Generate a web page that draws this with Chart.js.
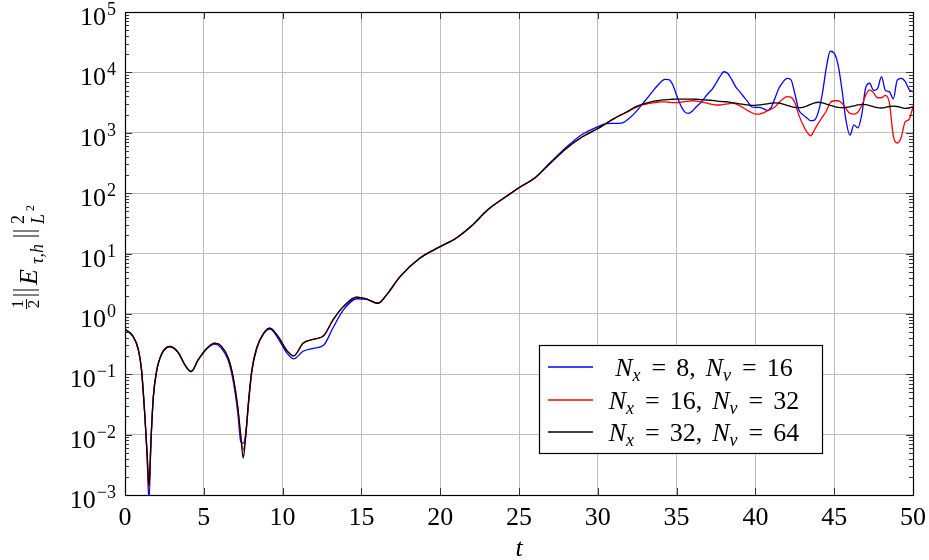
<!DOCTYPE html>
<html>
<head>
<meta charset="utf-8">
<script src="https://cdn.jsdelivr.net/npm/chart.js@4.4.0/dist/chart.umd.min.js"></script>
<style>
  html, body { margin: 0; padding: 0; background: #fff; }
  #wrap { width: 929px; height: 560px; }
</style>
</head>
<body>
<div id="wrap"><canvas id="myChart" width="929" height="560"></canvas></div>
<script>
// time samples
const t = [
  0, 0.5, 0.85, 1.05, 1.25, 1.4, 1.52, 1.65, 1.8, 2,
  2.3, 2.85, 3.4, 3.8, 4.2, 4.65, 5.2, 5.7, 6.1, 6.55,
  6.85, 7.15, 7.35, 7.5, 7.65, 7.85, 8.05, 8.35, 8.8, 9.2,
  9.7, 10.25, 10.7, 11.3, 11.95, 12.6, 13.2, 13.85, 14.7, 15.35,
  16.05, 16.6, 17.45, 18.7, 20, 21, 22, 23, 24, 25,
  26, 27, 28, 29, 30, 30.5, 31, 31.5,
  32, 32.25, 32.5, 32.75, 33, 33.25, 33.5, 33.75, 34, 34.25, 34.5, 34.75,
  35, 35.25, 35.5, 35.75, 36, 36.25, 36.5, 36.75, 37, 37.25, 37.5, 37.75,
  38, 38.25, 38.5, 38.75, 39, 39.25, 39.5, 39.75, 40, 40.25, 40.5, 40.75,
  41, 41.25, 41.5, 41.75, 42, 42.25, 42.5, 42.75, 43, 43.25, 43.5, 43.75,
  44, 44.25, 44.5, 44.75, 45, 45.25, 45.5, 45.75, 46, 46.25, 46.5, 46.75,
  47, 47.25, 47.5, 47.75, 48, 48.25, 48.5, 48.75, 49, 49.25, 49.5, 49.75,
  50
];

// 1/2 ||E||^2 for Nx = 8, Nv = 16
const energy8 = [
  0.557, 0.427, 0.254, 0.117, 0.0224, 0.0045, 0.00079, 0.0081, 0.0427, 0.111,
  0.209, 0.288, 0.224, 0.143, 0.111, 0.174, 0.265, 0.316, 0.275, 0.17,
  0.0813, 0.024, 0.00759, 0.00724, 0.01, 0.0355, 0.112, 0.262, 0.47, 0.562,
  0.398, 0.229, 0.18, 0.24, 0.269, 0.302, 0.589, 1.15, 1.78, 1.74,
  1.5, 2.07, 4.15, 8.36, 13, 17.9, 28.8, 52.5, 81.3, 123,
  178, 324, 575, 933, 1259, 1413, 1429, 1445,
  1738, 1995, 2344, 2818, 3388, 4074, 4898, 5888, 6918, 7674, 7586, 6310,
  4169, 2884, 2239, 2089, 2291, 2692, 3090, 3715, 4467, 5248, 6607, 8511,
  10233, 9550, 7586, 5754, 4786, 3981, 3311, 2692, 2630, 2630, 2512, 2344,
  2630, 3802, 5495, 6918, 7943, 7586, 4467, 2399, 1995, 1778, 1585, 1622,
  2239, 4467, 12023, 22387, 20893, 13183, 5012, 1585, 912, 1349, 1202, 1995,
  5623, 6607, 5012, 5370, 8511, 5012, 4786, 3631, 7413, 7943, 7079, 5248,
  4786
];

// Nx = 16, Nv = 32
const energy16 = [
  0.557, 0.427, 0.254, 0.117, 0.0224, 0.005, 0.00126, 0.0081, 0.0427, 0.111,
  0.209, 0.288, 0.224, 0.143, 0.111, 0.174, 0.269, 0.327, 0.295, 0.186,
  0.0933, 0.0292, 0.0089, 0.0056, 0.0089, 0.038, 0.117, 0.269, 0.479, 0.579,
  0.427, 0.251, 0.201, 0.327, 0.38, 0.433, 0.794, 1.32, 1.89, 1.75,
  1.5, 2.07, 4.15, 8.36, 13, 17.9, 28.8, 52.5, 81.3, 123,
  178, 316, 550, 851, 1175, 1413, 1698, 1995,
  2291, 2512, 2692, 2851, 2951, 3055, 3126, 3199, 3236, 3236, 3199, 3162,
  3162, 3199, 3273, 3350, 3388, 3350, 3273, 3162, 3055, 2951, 2884, 2884,
  2951, 3020, 3090, 3020, 2818, 2570, 2344, 2163, 2042, 2042, 2138, 2291,
  2455, 2692, 3162, 3631, 3981, 3890, 3162, 1995, 1380, 1047, 891, 1122,
  1445, 1820, 2291, 3162, 3388, 3388, 3090, 2512, 2089, 2042, 2188, 2818,
  4169, 5129, 4571, 3802, 3802, 4169, 3162, 891, 676, 832, 1514, 1660,
  2692
];

// Nx = 32, Nv = 64
const energy32 = [
  0.557, 0.427, 0.254, 0.117, 0.0224, 0.005, 0.0014, 0.0081, 0.0427, 0.111,
  0.209, 0.288, 0.224, 0.143, 0.111, 0.174, 0.269, 0.327, 0.295, 0.186,
  0.0933, 0.0292, 0.00933, 0.00407, 0.00891, 0.038, 0.117, 0.269, 0.479, 0.579,
  0.427, 0.251, 0.201, 0.327, 0.38, 0.433, 0.794, 1.32, 1.89, 1.75,
  1.5, 2.07, 4.15, 8.36, 13, 17.9, 28.8, 52.5, 81.3, 123,
  178, 316, 550, 851, 1175, 1413, 1698, 1995,
  2344, 2570, 2754, 2917, 3055, 3199, 3311, 3388, 3467, 3508, 3548, 3589,
  3597, 3614, 3614, 3597, 3597, 3589, 3548, 3508, 3467, 3428, 3373, 3311,
  3273, 3236, 3162, 3090, 3020, 2951, 2884, 2851, 2851, 2884, 2951, 3020,
  3090, 3126, 3090, 2985, 2851, 2723, 2630, 2600, 2630, 2754, 2951, 3126,
  3199, 3126, 2985, 2851, 2723, 2630, 2600, 2630, 2692, 2786, 2884, 2951,
  2917, 2818, 2692, 2600, 2570, 2630, 2723, 2754, 2723, 2630, 2541, 2570,
  2692
];

const xTicks = [0, 5, 10, 15, 20, 25, 30, 35, 40, 45, 50];
const yExponents = [-3, -2, -1, 0, 1, 2, 3, 4, 5];
const seriesNames = ['N_x = 8, N_v = 16', 'N_x = 16, N_v = 32', 'N_x = 32, N_v = 64'];
const legendParts = [['8', '16'], ['16', '32'], ['32', '64']];
const seriesColors = ['#0000ff', '#ff0000', '#000000'];

const SERIF = '"Liberation Serif", "DejaVu Serif", serif';
const FS = 26;

const toPoints = vals => vals.map((v, i) => ({ x: t[i], y: v }));

// text runs: [text, italic, size, dy] or a number (gap in px)
function runWidth(ctx, runs) {
  let w = 0;
  runs.forEach(r => {
    if (typeof r === 'number') { w += r; return; }
    ctx.font = (r[1] ? 'italic ' : '') + r[2] + 'px ' + SERIF;
    w += ctx.measureText(r[0]).width;
  });
  return w;
}
function drawRuns(ctx, runs, x, y, align) {
  const w = runWidth(ctx, runs);
  let cx = align === 'center' ? x - w / 2 : align === 'right' ? x - w : x;
  ctx.textBaseline = 'alphabetic';
  ctx.textAlign = 'left';
  runs.forEach(r => {
    if (typeof r === 'number') { cx += r; return; }
    ctx.font = (r[1] ? 'italic ' : '') + r[2] + 'px ' + SERIF;
    ctx.fillText(r[0], cx, y + (r[3] || 0));
    cx += ctx.measureText(r[0]).width;
  });
}

const axisDecor = {
  id: 'axisDecor',
  afterDraw(chart) {
    const ctx = chart.ctx;
    const { left, right, top, bottom } = chart.chartArea;
    const xs = chart.scales.x, ys = chart.scales.y;
    ctx.save();
    ctx.fillStyle = '#000';

    // tick marks
    ctx.strokeStyle = '#333';
    ctx.lineWidth = 1;
    ctx.beginPath();
    xTicks.forEach(v => {
      const px = Math.round(xs.getPixelForValue(v)) + 0.5;
      ctx.moveTo(px, bottom); ctx.lineTo(px, bottom - 7);
      ctx.moveTo(px, top); ctx.lineTo(px, top + 7);
    });
    yExponents.forEach((e, k) => {
      const py = Math.round(ys.getPixelForValue(Math.pow(10, e))) + 0.5;
      ctx.moveTo(left, py); ctx.lineTo(left + 7, py);
      ctx.moveTo(right, py); ctx.lineTo(right - 7, py);
      if (k < yExponents.length - 1) {
        for (let m = 2; m <= 9; m++) {
          const my = Math.round(ys.getPixelForValue(m * Math.pow(10, e))) + 0.5;
          ctx.moveTo(left, my); ctx.lineTo(left + 4, my);
          ctx.moveTo(right, my); ctx.lineTo(right - 4, my);
        }
      }
    });
    ctx.stroke();

    // frame
    ctx.strokeStyle = '#000';
    ctx.lineWidth = 1.2;
    ctx.strokeRect(Math.round(left) + 0.5, Math.round(top) + 0.5,
      Math.round(right - left), Math.round(bottom - top));

    // x tick labels
    xTicks.forEach(v => {
      drawRuns(ctx, [[String(v), 0, FS, 0]], xs.getPixelForValue(v), bottom + 30, 'center');
    });
    // y tick labels 10^e
    yExponents.forEach(e => {
      const py = ys.getPixelForValue(Math.pow(10, e));
      const ex = e < 0 ? '\u2212' + (-e) : String(e);
      drawRuns(ctx, [['10', 0, FS, 0], 1, [ex, 0, 18, -10]], 116, py + 13, 'right');
    });

    // x axis title
    drawRuns(ctx, [['t', 1, FS, 0]], (left + right) / 2, 556, 'center');

    // y axis title: 1/2 ||E_{tau,h}||^2_{L^2}
    ctx.save();
    ctx.translate(37, 0);
    ctx.rotate(-Math.PI / 2);
    ctx.textAlign = 'center';
    ctx.font = '17px ' + SERIF;
    ctx.fillText('1', -304, -14);
    ctx.fillText('2', -304, 2);
    ctx.lineWidth = 1;
    ctx.beginPath();
    ctx.moveTo(-309, -10.5); ctx.lineTo(-299, -10.5);
    [-295, -290, -236, -231].forEach(rx => {
      ctx.moveTo(rx, -24); ctx.lineTo(rx, 2);
    });
    ctx.stroke();
    ctx.textAlign = 'left';
    ctx.font = 'italic ' + FS + 'px ' + SERIF;
    ctx.fillText('E', -285, 0);
    ctx.font = 'italic 18px ' + SERIF;
    ctx.fillText('\u03c4,h', -264, 6);
    ctx.font = '18px ' + SERIF;
    ctx.fillText('2', -224, -13);
    ctx.font = 'italic 18px ' + SERIF;
    ctx.fillText('L', -224, 7);
    ctx.font = '12px ' + SERIF;
    ctx.fillText('2', -211, -3);
    ctx.restore();

    // legend
    const bx = 539.5, by = 345.5, bw = 283, bh = 108;
    ctx.fillStyle = '#fff';
    ctx.fillRect(bx, by, bw, bh);
    ctx.strokeStyle = '#000';
    ctx.lineWidth = 1.2;
    ctx.strokeRect(bx, by, bw, bh);
    const rows = [367, 400, 432];
    chart.data.datasets.forEach((ds, i) => {
      ctx.strokeStyle = ds.borderColor;
      ctx.lineWidth = 1.3;
      ctx.beginPath();
      ctx.moveTo(548, rows[i]); ctx.lineTo(593, rows[i]);
      ctx.stroke();
      ctx.fillStyle = '#000';
      const [a, b] = legendParts[i];
      drawRuns(ctx, [
        ['N', 1, FS, 0], ['x', 1, 18, 5], 11, ['=', 0, FS, 0], 10, [a, 0, FS, 0], [',', 0, FS, 0], 10,
        ['N', 1, FS, 0], ['v', 1, 18, 5], 11, ['=', 0, FS, 0], 10, [b, 0, FS, 0]
      ], 704, rows[i] + 9, 'center');
    });
    ctx.restore();
  }
};

const ctx = document.getElementById('myChart').getContext('2d');
const myChart = new Chart(ctx, {
  type: 'line',
  data: {
    datasets: [
      { label: seriesNames[0], data: toPoints(energy8), borderColor: seriesColors[0], order: 2 },
      { label: seriesNames[1], data: toPoints(energy16), borderColor: seriesColors[1], order: 1 },
      { label: seriesNames[2], data: toPoints(energy32), borderColor: seriesColors[2], order: 0 }
    ]
  },
  options: {
    responsive: false,
    animation: false,
    devicePixelRatio: 1,
    layout: { padding: { left: 125, right: 16, top: 12, bottom: 65 } },
    elements: {
      line: { borderWidth: 1.3, cubicInterpolationMode: 'monotone', fill: false },
      point: { radius: 0 }
    },
    plugins: { legend: { display: false }, tooltip: { enabled: false } },
    scales: {
      x: {
        type: 'linear', min: 0, max: 50,
        ticks: { display: false, stepSize: 5 },
        grid: { color: '#bdbdbd', lineWidth: 1, drawTicks: false },
        border: { display: false },
        afterFit: s => { s.height = 0; }
      },
      y: {
        type: 'logarithmic', min: 1e-3, max: 1e5,
        ticks: { display: false },
        afterBuildTicks: s => { s.ticks = yExponents.map(e => ({ value: Math.pow(10, e) })); },
        grid: { color: '#bdbdbd', lineWidth: 1, drawTicks: false },
        border: { display: false },
        afterFit: s => { s.width = 0; }
      }
    }
  },
  plugins: [axisDecor]
});
</script>
</body>
</html>
